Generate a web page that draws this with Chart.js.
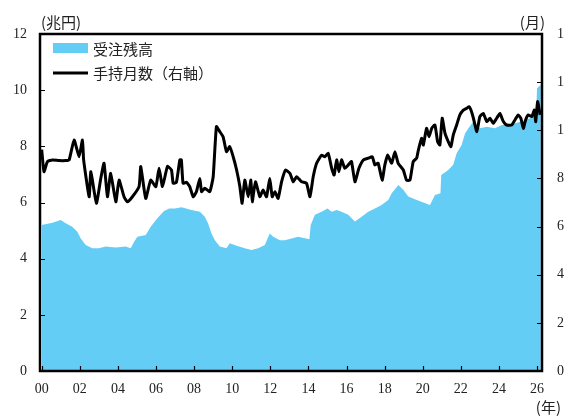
<!DOCTYPE html>
<html>
<head>
<meta charset="utf-8">
<script src="https://cdn.jsdelivr.net/npm/chart.js@4"></script>
<style>
  html, body { margin: 0; padding: 0; background: #fff; }
  #wrap { width: 564px; height: 417px; }
</style>
</head>
<body>
<div id="wrap"><canvas id="orderChart" width="564" height="417"></canvas></div>
<script>
// 受注残高（兆円, 左軸）
const backlogYears = [2000.0, 2000.56, 2001.0, 2001.26, 2001.6, 2001.87, 2002.05, 2002.31, 2002.66, 2003.0,
  2003.36, 2003.89, 2004.41, 2004.67, 2004.85, 2005.02, 2005.46, 2005.72, 2006.07, 2006.42,
  2006.69, 2006.99, 2007.34, 2007.86, 2008.3, 2008.56, 2008.73, 2008.91, 2009.09, 2009.35,
  2009.7, 2009.87, 2010.23, 2010.66, 2011.01, 2011.36, 2011.71, 2011.97, 2012.15, 2012.5,
  2012.76, 2013.11, 2013.46, 2014.05, 2014.12, 2014.34, 2014.69, 2015.0, 2015.22, 2015.48,
  2015.74, 2016.09, 2016.44, 2016.79, 2017.14, 2017.49, 2017.84, 2018.19, 2018.37, 2018.72,
  2018.98, 2019.24, 2019.59, 2020.03, 2020.38, 2020.64, 2020.93, 2020.97, 2021.34, 2021.6,
  2021.78, 2022.04, 2022.22, 2022.4, 2022.66, 2023.0, 2023.36, 2023.79, 2024.15, 2024.5,
  2024.84, 2025.19, 2025.63, 2025.95, 2026.0, 2026.2];
const backlogValues = [5.2, 5.28, 5.38, 5.26, 5.14, 4.96, 4.72, 4.49, 4.37, 4.37,
  4.43, 4.4, 4.43, 4.37, 4.6, 4.78, 4.84, 5.14, 5.44, 5.7,
  5.79, 5.79, 5.83, 5.73, 5.67, 5.49, 5.26, 4.9, 4.66, 4.43,
  4.37, 4.55, 4.46, 4.37, 4.31, 4.37, 4.49, 4.9, 4.78, 4.66,
  4.66, 4.72, 4.78, 4.69, 5.2, 5.56, 5.67, 5.79, 5.67, 5.73,
  5.67, 5.56, 5.32, 5.49, 5.67, 5.79, 5.91, 6.09, 6.33, 6.62,
  6.45, 6.21, 6.12, 6.0, 5.91, 6.27, 6.33, 6.98, 7.16, 7.34,
  7.75, 8.05, 8.46, 8.64, 8.88, 8.64, 8.7, 8.64, 8.76, 8.76,
  8.82, 8.88, 9.0, 9.12, 10.07, 10.19];

// 手持月数（月, 右軸）
const monthsYears = [2000.0, 2000.12, 2000.3, 2000.56, 2000.91, 2001.26, 2001.44, 2001.7, 2001.96, 2002.14,
  2002.2, 2002.49, 2002.58, 2002.87, 2003.1, 2003.27, 2003.45, 2003.62, 2003.89, 2004.06,
  2004.32, 2004.5, 2004.76, 2005.11, 2005.2, 2005.46, 2005.72, 2005.99, 2006.16, 2006.34,
  2006.6, 2006.81, 2006.9, 2007.07, 2007.25, 2007.33, 2007.42, 2007.6, 2007.77, 2007.95,
  2008.12, 2008.3, 2008.39, 2008.56, 2008.82, 2009.0, 2009.17, 2009.35, 2009.52, 2009.7,
  2009.87, 2010.05, 2010.23, 2010.4, 2010.52, 2010.66, 2010.84, 2010.98, 2011.05, 2011.22,
  2011.45, 2011.62, 2011.8, 2011.97, 2012.1, 2012.24, 2012.41, 2012.59, 2012.8, 2013.03,
  2013.2, 2013.38, 2013.64, 2013.9, 2014.08, 2014.25, 2014.43, 2014.69, 2014.86, 2015.04,
  2015.22, 2015.35, 2015.48, 2015.6, 2015.74, 2015.91, 2016.09, 2016.26, 2016.44, 2016.65,
  2016.88, 2017.14, 2017.35, 2017.49, 2017.66, 2017.87, 2018.01, 2018.16, 2018.37, 2018.54,
  2018.71, 2018.98, 2019.15, 2019.33, 2019.5, 2019.68, 2019.77, 2019.94, 2020.03, 2020.2,
  2020.33, 2020.47, 2020.64, 2020.78, 2020.9, 2021.02, 2021.17, 2021.34, 2021.48, 2021.6,
  2021.78, 2021.95, 2022.13, 2022.3, 2022.43, 2022.53, 2022.66, 2022.84, 2023.0, 2023.18,
  2023.36, 2023.53, 2023.7, 2023.88, 2024.05, 2024.23, 2024.4, 2024.67, 2024.84, 2025.01,
  2025.15, 2025.28, 2025.4, 2025.54, 2025.72, 2025.86, 2025.93, 2026.03, 2026.16];
const monthsValues = [9.2, 8.28, 8.7, 8.77, 8.74, 8.74, 8.77, 9.6, 8.9, 9.6,
  8.77, 7.24, 8.28, 6.97, 8.0, 8.63, 7.24, 8.21, 7.03, 7.93,
  7.24, 7.03, 7.24, 7.66, 8.49, 7.17, 7.93, 7.66, 8.42, 7.66,
  8.5, 8.35, 7.8, 7.84, 8.77, 8.77, 7.8, 7.84, 7.66, 7.24,
  7.45, 8.0, 7.45, 7.59, 7.45, 8.07, 10.15, 9.94, 9.73, 9.11,
  9.32, 8.9, 8.35, 7.66, 6.97, 7.93, 7.24, 7.93, 7.03, 7.86,
  7.24, 7.52, 7.24, 8.0, 7.24, 7.45, 7.17, 7.86, 8.35, 8.21,
  7.86, 8.07, 7.86, 7.8, 7.24, 8.07, 8.63, 8.97, 8.9, 9.04,
  8.42, 8.14, 8.77, 8.28, 8.77, 8.42, 8.56, 8.7, 7.86, 8.42,
  8.77, 8.84, 8.9, 8.56, 8.63, 7.93, 8.56, 8.97, 8.63, 9.11,
  8.63, 8.35, 7.93, 7.93, 8.7, 8.84, 9.18, 9.67, 9.39, 10.08,
  9.73, 10.08, 10.22, 9.53, 9.39, 10.5, 9.87, 9.53, 9.32, 9.8,
  10.22, 10.64, 10.84, 10.91, 10.98, 10.84, 10.5, 9.94, 10.57, 10.7,
  10.36, 10.5, 10.29, 10.5, 10.7, 10.36, 10.22, 10.22, 10.43, 10.64,
  10.5, 10.08, 10.43, 10.64, 10.57, 10.84, 10.36, 11.19, 10.64];

const yearTicks = [2000, 2002, 2004, 2006, 2008, 2010, 2012, 2014, 2016, 2018, 2020, 2022, 2024, 2026];
const leftTicks = [0, 2, 4, 6, 8, 10, 12];
const rightTicks = [0, 2, 4, 6, 8, 10, 12, 14];

const BLUE = '#64CDF6';
const numFont = { family: '"Liberation Serif", "DejaVu Serif", serif', size: 14 };
const jpFont = '15px "Noto Sans CJK JP", sans-serif';

// 枠線・目盛り・凡例・単位
const decorPlugin = {
    id: 'decor',
    afterDraw(chart) {
        const { ctx, chartArea: a, scales } = chart;
        ctx.save();
        ctx.strokeStyle = '#000';
        ctx.lineWidth = 1.2;
        ctx.beginPath();
        yearTicks.forEach(v => {
            const x = Math.round(scales.x.getPixelForValue(v)) + 0.5;
            if (x > a.left + 2 && x < a.right - 2) { ctx.moveTo(x, a.bottom); ctx.lineTo(x, a.bottom - 5); }
        });
        leftTicks.forEach(v => {
            const y = Math.round(scales.y.getPixelForValue(v)) + 0.5;
            ctx.moveTo(a.left, y); ctx.lineTo(a.left + 5, y);
        });
        rightTicks.forEach(v => {
            const y = Math.round(scales.y2.getPixelForValue(v)) + 0.5;
            ctx.moveTo(a.right, y); ctx.lineTo(a.right - 5, y);
        });
        ctx.stroke();

        ctx.lineWidth = 2.5;
        ctx.strokeRect(a.left, a.top, a.right - a.left, a.bottom - a.top);

        // 凡例
        ctx.fillStyle = BLUE;
        ctx.fillRect(53, 43, 35, 10);
        ctx.beginPath();
        ctx.lineWidth = 3;
        ctx.moveTo(53, 73); ctx.lineTo(88, 73);
        ctx.stroke();
        ctx.fillStyle = '#222';
        ctx.font = jpFont;
        ctx.textBaseline = 'middle';
        ctx.textAlign = 'left';
        ctx.fillText('受注残高', 93, 49);
        ctx.fillText('手持月数（右軸）', 93, 73);

        // 単位
        ctx.fillText('(兆円)', 41, 22);
        ctx.textAlign = 'right';
        ctx.fillText('(月)', 545, 22);
        ctx.fillText('(年)', 561, 407);
        ctx.restore();
    }
};

const ctx = document.getElementById('orderChart').getContext('2d');

const orderChart = new Chart(ctx, {
    type: 'line',
    data: {
        datasets: [{
            label: '手持月数（右軸）',
            data: monthsYears.map((x, i) => ({ x: x, y: monthsValues[i] })),
            yAxisID: 'y2',
            borderColor: '#000',
            borderWidth: 3,
            pointRadius: 0,
            tension: 0.15,
            fill: false,
            order: 1
        }, {
            label: '受注残高',
            data: backlogYears.map((x, i) => ({ x: x, y: backlogValues[i] })),
            yAxisID: 'y',
            borderWidth: 0,
            borderColor: BLUE,
            backgroundColor: BLUE,
            pointRadius: 0,
            fill: 'origin',
            order: 2
        }]
    },
    options: {
        responsive: false,
        animation: false,
        layout: { padding: { top: 34, left: 0, right: 0, bottom: 0 } },
        plugins: {
            legend: { display: false },
            tooltip: { enabled: false }
        },
        scales: {
            x: {
                type: 'linear',
                min: 1999.91,
                max: 2026.26,
                grid: { display: false, drawTicks: false },
                border: { display: false },
                afterBuildTicks: s => { s.ticks = yearTicks.map(v => ({ value: v })); },
                afterFit: s => { s.height = 46; },
                ticks: {
                    padding: 10,
                    maxRotation: 0,
                    autoSkip: false,
                    color: '#222',
                    font: numFont,
                    callback: v => String(v % 100).padStart(2, '0')
                }
            },
            y: {
                position: 'left',
                min: 0,
                max: 12,
                grid: { display: false, drawTicks: false },
                border: { display: false },
                afterBuildTicks: s => { s.ticks = leftTicks.map(v => ({ value: v })); },
                afterFit: s => { s.width = 40; },
                ticks: { padding: 13, color: '#222', font: numFont }
            },
            y2: {
                position: 'right',
                min: 0,
                max: 14,
                grid: { display: false, drawTicks: false },
                border: { display: false },
                afterBuildTicks: s => { s.ticks = rightTicks.map(v => ({ value: v })); },
                afterFit: s => { s.width = 22; },
                ticks: { padding: 15, color: '#222', font: numFont }
            }
        }
    },
    plugins: [decorPlugin]
});
</script>
</body>
</html>
